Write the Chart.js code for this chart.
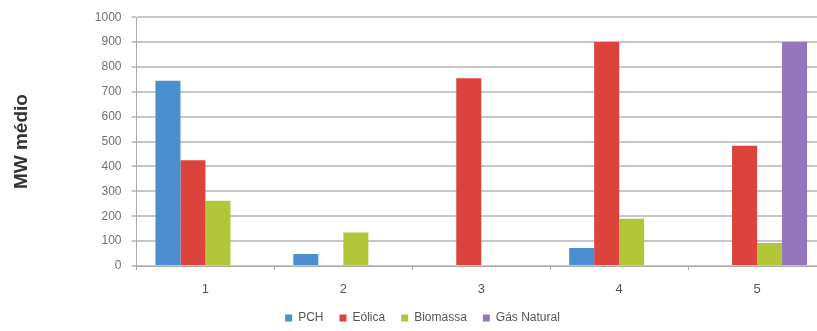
<!DOCTYPE html>
<html>
<head>
<meta charset="utf-8">
<script src="https://cdn.jsdelivr.net/npm/chart.js@4/dist/chart.umd.min.js"></script>
<style>
  html, body { margin: 0; padding: 0; background: #fff; overflow: hidden; width: 817px; height: 331px; }
  #wrap { position: absolute; left: 0; top: 0; width: 846px; height: 331px; }
</style>
</head>
<body>
<div id="wrap"><canvas id="c" width="846" height="331"></canvas></div>
<script>
const categories = ['1', '2', '3', '4', '5'];
const seriesNames = ['PCH', 'Eólica', 'Biomassa', 'Gás Natural'];
const pch      = [745, 48, 0, 72, 0];
const eolica   = [425, 0, 755, 900, 483];
const biomassa = [262, 135, 0, 190, 92];
const gasNatural = [0, 0, 0, 0, 900];
const yTicks = [0, 100, 200, 300, 400, 500, 600, 700, 800, 900, 1000];
const colors = ['#4A8FCF', '#DC433D', '#B3C637', '#9275BA'];

const values = [pch, eolica, biomassa, gasNatural];
const FONT = '"Liberation Sans", Arial, sans-serif';

new Chart(document.getElementById('c'), {
  type: 'bar',
  data: {
    labels: categories,
    datasets: seriesNames.map((name, i) => ({
      label: name,
      data: values[i],
      backgroundColor: colors[i],
      borderWidth: 0,
      categoryPercentage: 0.725,
      barPercentage: 1.0
    }))
  },
  options: {
    responsive: false,
    devicePixelRatio: 1,
    animation: false,
    layout: { padding: { left: 19, right: 20, top: 16, bottom: -3 } },
    plugins: {
      tooltip: { enabled: false },
      legend: {
        position: 'bottom',
        labels: {
          boxWidth: 7, boxHeight: 7, padding: 16,
          color: '#555',
          font: { family: FONT, size: 12 }
        }
      }
    },
    scales: {
      x: {
        offset: true,
        afterFit: (scale) => { scale.height = 30; },
        grid: { display: true, drawOnChartArea: false, tickLength: 4, color: '#aaa', offset: true },
        border: { display: true, color: '#aaa', width: 1 },
        ticks: { color: '#555', padding: 12, font: { family: FONT, size: 13 } }
      },
      y: {
        min: 0, max: 1000,
        afterBuildTicks: (scale) => { scale.ticks = yTicks.map(v => ({ value: v })); },
        grid: { color: '#c6c6c6', lineWidth: 2, tickLength: 5 },
        border: { display: true, color: '#aaa', width: 1 },
        ticks: { color: '#707070', padding: 10, font: { family: FONT, size: 12 },
                 callback: (v) => String(v) },
        title: {
          display: true,
          text: 'MW médio',
          color: '#333',
          font: { family: FONT, size: 19, weight: 'bold' },
          padding: { top: -9, bottom: 52 }
        }
      }
    }
  }
});
</script>
</body>
</html>
